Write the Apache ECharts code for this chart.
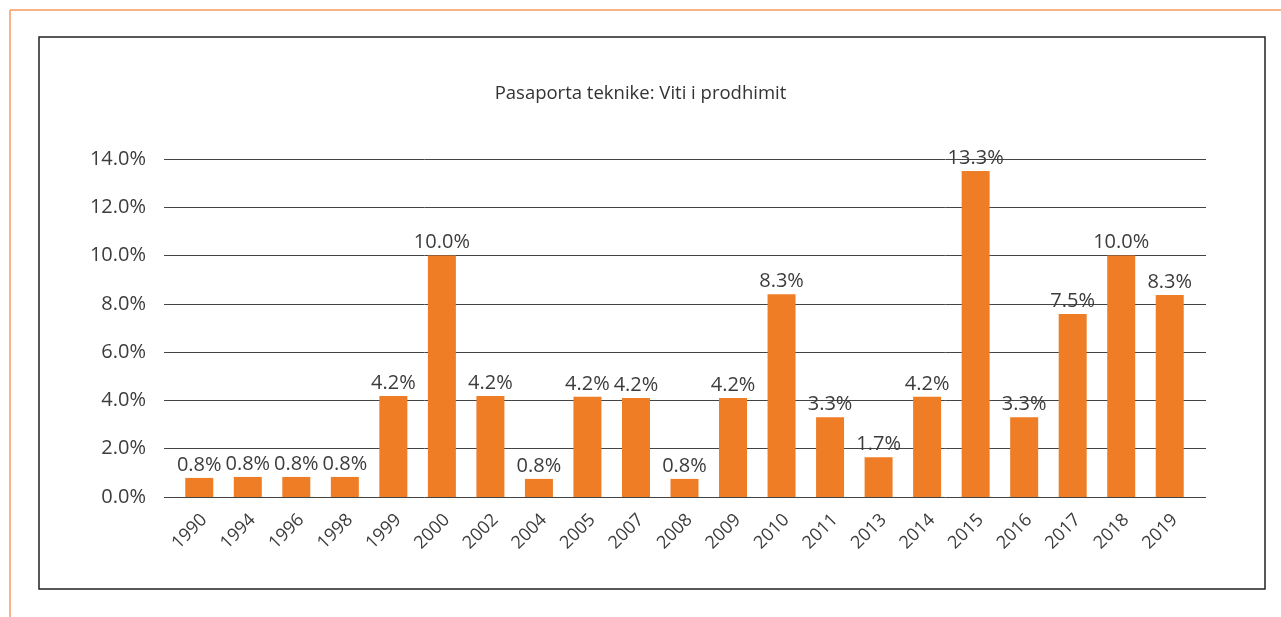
<html>
<head>
    <meta http-equiv="Content-Type" content="text/html; charset=utf-8" />
    <title>Pasaporta teknike</title>
    <style>
        body { margin: 0; background: #fff; }
        #container { width: 1281px; height: 617px; }
    </style>
</head>
<body>
    <div id="container"></div>
    <script src="https://cdn.jsdelivr.net/npm/echarts@6/dist/echarts.min.js"></script>
    <script type="text/javascript">
    // years on the x axis
    var years = ['1990', '1994', '1996', '1998', '1999', '2000', '2002', '2004', '2005', '2007',
        '2008', '2009', '2010', '2011', '2013', '2014', '2015', '2016', '2017', '2018', '2019'];
    // bar heights (%)
    var shares = [0.79, 0.83, 0.83, 0.83, 4.18, 10.0, 4.18, 0.75, 4.15, 4.1,
        0.75, 4.1, 8.4, 3.3, 1.65, 4.15, 13.5, 3.3, 7.58, 10.0, 8.37];
    // label text printed above each bar
    var shareLabels = ['0.8%', '0.8%', '0.8%', '0.8%', '4.2%', '10.0%', '4.2%', '0.8%', '4.2%', '4.2%',
        '0.8%', '4.2%', '8.3%', '3.3%', '1.7%', '4.2%', '13.3%', '3.3%', '7.5%', '10.0%', '8.3%'];

    var font = '"Open Sans", "Noto Sans", sans-serif';
    var txt = '#3c3c3c';

    var myChart = echarts.init(document.getElementById('container'));

    // grid 0 carries the gridlines and y labels (they run a bit wider than the bars),
    // grid 1 carries the bars and the year labels
    myChart.setOption({
        animation: false,
        textStyle: { fontFamily: font },
        title: {
            text: 'Pasaporta teknike: Viti i prodhimit',
            left: 'center',
            top: 79,
            textStyle: { fontSize: 18.5, fontWeight: 'normal', color: '#333', fontFamily: font }
        },
        graphic: [
            { type: 'line', shape: { x1: 10, y1: 10, x2: 1281, y2: 10 }, style: { stroke: '#f79a64', lineWidth: 1.5 } },
            { type: 'line', shape: { x1: 10, y1: 10, x2: 10, y2: 617 }, style: { stroke: '#f79a64', lineWidth: 1.5 } },
            { type: 'rect', shape: { x: 39, y: 37, width: 1226, height: 552 }, style: { fill: 'none', stroke: '#222', lineWidth: 1.5 } }
        ],
        grid: [
            { left: 164, right: 75, top: 159, bottom: 120 },
            { left: 175, right: 87, top: 159, bottom: 120 }
        ],
        xAxis: [{
            gridIndex: 0,
            type: 'value',
            min: 0,
            max: 1,
            show: false
        }, {
            gridIndex: 1,
            type: 'category',
            data: years,
            axisTick: { show: false },
            axisLine: { show: false },
            axisLabel: {
                rotate: 45, interval: 0, fontSize: 18, color: txt, margin: 25, fontFamily: font,
                padding: [0, -7, 0, 0]
            }
        }],
        yAxis: [{
            gridIndex: 0,
            type: 'value',
            min: 0,
            max: 14,
            interval: 2,
            axisLine: { show: false },
            axisTick: { show: false },
            splitLine: { lineStyle: { color: '#444', width: 1 } },
            axisLabel: {
                fontSize: 20, color: txt, margin: 18, fontFamily: font,
                formatter: function (v) { return v.toFixed(1) + '%'; }
            }
        }, {
            gridIndex: 1,
            type: 'value',
            min: 0,
            max: 14,
            interval: 2,
            show: false
        }],
        series: [{
            type: 'bar',
            xAxisIndex: 1,
            yAxisIndex: 1,
            data: shares,
            barWidth: 28,
            itemStyle: { color: '#ee7d26' },
            label: {
                show: true,
                position: 'top',
                distance: 3,
                fontSize: 20,
                color: txt,
                fontFamily: font,
                formatter: function (p) { return shareLabels[p.dataIndex]; }
            }
        }]
    });
    </script>
</body>
</html>
